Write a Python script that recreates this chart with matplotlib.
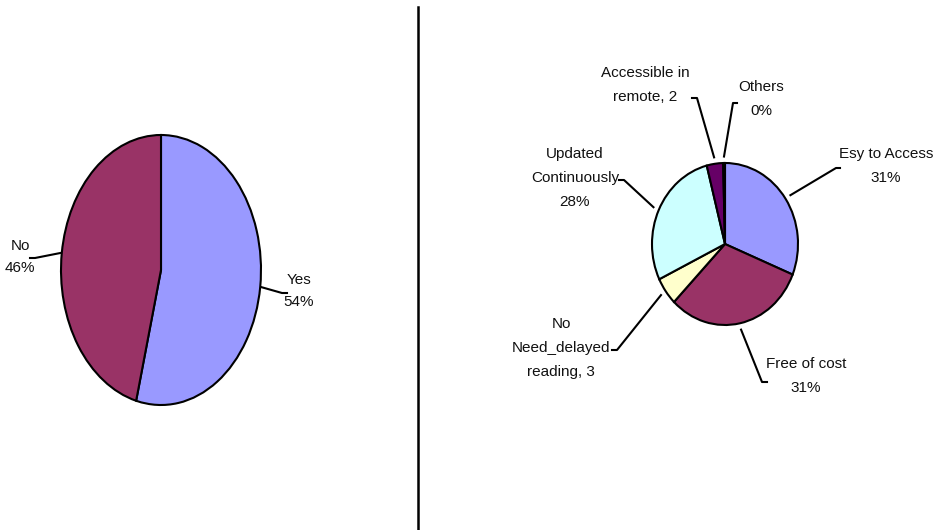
import matplotlib.pyplot as plt
import numpy as np

# Left pie: Yes / No
left_labels = ["Yes\n54%", "No\n46%"]
left_values = [54, 46]
left_colors = ["#9999FF", "#993366"]

# Right pie: reasons
right_labels = ["Esy to Access\n31%", "Free of cost\n31%", "No\nNeed_delayed\nreading, 3",
                "Updated\nContinuously\n28%", "Accessible in\nremote, 2", "Others\n0%"]
right_values = [31, 31, 5.5, 28, 3.6, 0.4]
right_colors = ["#9999FF", "#993366", "#FFFFCC", "#CCFFFF", "#660066", "#FF8080"]

# label placement in pixels (x, y from top): text centre, leader elbow, tick length
left_text = [(299, 291), (20, 257)]
left_elbow = [(282, 293), (35, 258)]
left_tick = [5, -5]
right_text = [(886, 166), (806, 376), (561, 348), (575, 178), (645, 85), (761, 99)]
right_elbow = [(836, 168), (762, 382), (617, 350), (624, 180), (697, 98), (733, 103)]
right_tick = [4, 5, -5, -5, -5, 4]

FONT = ["Liberation Sans Narrow", "Liberation Sans", "DejaVu Sans"]

fig = plt.figure(figsize=(9.4, 5.3), dpi=100)
ax_l = fig.add_axes([61 / 940, 1 - 405 / 530, 200 / 940, 270 / 530])
ax_r = fig.add_axes([652 / 940, 1 - 325 / 530, 146 / 940, 162 / 530])
over = fig.add_axes([0, 0, 1, 1])
over.set_xlim(0, 940)
over.set_ylim(530, 0)
over.axis("off")
over.patch.set_visible(False)

# divider between the two charts
over.plot([418, 418], [7, 530], color="black", lw=1.8)


def draw_pie(ax, values, colors, labels, text_pos, elbows, ticks, r_start, lsp):
    wedges, _ = ax.pie(values, colors=colors, startangle=90, counterclock=False,
                       wedgeprops=dict(edgecolor="black", linewidth=1.5))
    ax.set_aspect("auto")
    ax.set_xlim(-1, 1)
    ax.set_ylim(-1, 1)
    ax.axis("off")
    for w, lab, (tx, ty), (ex, ey), d in zip(wedges, labels, text_pos, elbows, ticks):
        ang = np.deg2rad((w.theta1 + w.theta2) / 2)
        pt = ax.transData.transform((r_start * np.cos(ang), r_start * np.sin(ang)))
        sx, sy = over.transData.inverted().transform(pt)
        over.plot([sx, ex, ex + d], [sy, ey, ey], color="black", lw=1.5)
        over.text(tx, ty, lab, ha="center", va="center", fontsize=11,
                  family=FONT, linespacing=lsp, color="#111111")


draw_pie(ax_l, left_values, left_colors, left_labels, left_text, left_elbow, left_tick, 1.01, 1.75)
draw_pie(ax_r, right_values, right_colors, right_labels, right_text, right_elbow, right_tick, 1.08, 1.95)

fig.savefig("out.png", dpi=100)
